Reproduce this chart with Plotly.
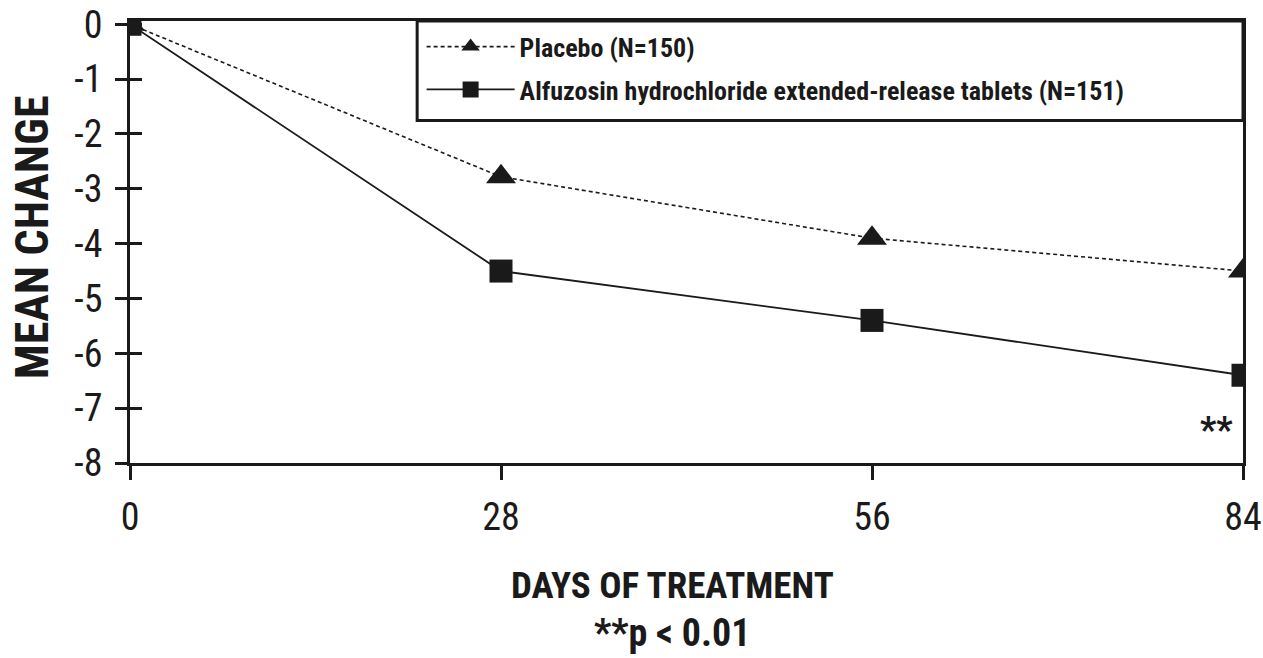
import plotly.graph_objects as go

days = [0, 28, 56, 84]
placebo = [0, -2.78, -3.9, -4.5]
alfuzosin = [0, -4.5, -5.4, -6.4]
placebo_name = "Placebo (N=150)"
alfuzosin_name = "Alfuzosin hydrochloride extended-release tablets (N=151)"
x_ticks = [0, 28, 56, 84]
y_ticks = [0, -1, -2, -3, -4, -5, -6, -7, -8]

FONT = "Roboto Condensed, Liberation Sans Narrow, Roboto, sans-serif"
INK = "#1a1a1a"

fig = go.Figure()
fig.add_trace(go.Scatter(
    x=days, y=placebo, name=placebo_name, mode="lines+markers",
    line=dict(color=INK, width=1.6, dash="4px,3px"),
    marker=dict(symbol="triangle-up", size=26, color=INK),
    legendgroup="a",
))
fig.add_trace(go.Scatter(
    x=days, y=alfuzosin, name=alfuzosin_name, mode="lines+markers",
    line=dict(color=INK, width=1.8),
    marker=dict(symbol="square", size=23, color=INK),
    legendgroup="b",
))
# invisible trace for an inside-tick y axis (crossing ticks)
fig.add_trace(go.Scatter(x=[days[0]], y=[y_ticks[0]], yaxis="y2", showlegend=False,
                         mode="markers", marker=dict(opacity=0), hoverinfo="skip"))

fig.update_layout(
    width=1263, height=658,
    margin=dict(l=130, r=20, t=21, b=195),
    paper_bgcolor="white", plot_bgcolor="white",
    font=dict(family=FONT, color=INK),
    showlegend=True,
    legend=dict(
        x=0.262, y=0.995, xanchor="left", yanchor="top",
        bgcolor="rgba(0,0,0,0)", borderwidth=0,
        font=dict(family=FONT, size=26, color=INK, weight="bold"),
        tracegroupgap=6, itemwidth=88,
    ),
    xaxis=dict(
        range=[0, 84], tickvals=x_ticks, ticktext=[str(v) for v in x_ticks],
        showline=True, linecolor=INK, linewidth=3, mirror=True,
        ticks="outside", ticklen=14, tickwidth=3, tickcolor=INK,
        tickfont=dict(size=38, family=FONT, color=INK),
        ticklabelstandoff=4, ticklabeloverflow="allow",
        showgrid=False, zeroline=False, automargin=False,
    ),
    yaxis=dict(
        range=[-8, 0.06], tickvals=y_ticks, ticktext=[str(v) for v in y_ticks],
        showline=True, linecolor=INK, linewidth=3, mirror=True,
        ticks="outside", ticklen=12, tickwidth=3, tickcolor=INK,
        tickfont=dict(size=38, family=FONT, color=INK),
        ticklabelstandoff=5, ticklabeloverflow="allow",
        showgrid=False, zeroline=False, automargin=False,
    ),
    yaxis2=dict(
        overlaying="y", matches="y", side="left", anchor="x",
        tickvals=y_ticks, showticklabels=False,
        ticks="inside", ticklen=12, tickwidth=3, tickcolor=INK,
        showgrid=False, zeroline=False, showline=False, automargin=False,
    ),
    shapes=[dict(type="rect", xref="paper", yref="paper",
                 x0=0.258, x1=1.0, y0=0.775, y1=1.0,
                 line=dict(color=INK, width=3), fillcolor="rgba(0,0,0,0)")],
    annotations=[
        dict(x=82, y=-7.4, xref="x", yref="y", text="**", showarrow=False,
             font=dict(size=36, family=FONT, color=INK, weight="bold")),
        dict(x=0.487, y=-0.278, xref="paper", yref="paper", text="DAYS OF TREATMENT",
             showarrow=False, yanchor="middle",
             font=dict(size=37, family=FONT, color=INK, weight="bold")),
        dict(x=0.487, y=-0.385, xref="paper", yref="paper", text="**p &lt; 0.01",
             showarrow=False, yanchor="middle",
             font=dict(size=38, family=FONT, color=INK, weight="bold")),
        dict(x=-0.088, y=0.511, xref="paper", xanchor="center", yref="paper", text="MEAN CHANGE",
             showarrow=False, textangle=-90, yanchor="middle",
             font=dict(size=46, family=FONT, color=INK, weight="bold")),
    ],
)

fig.write_html(
    "out.html",
    config={"displayModeBar": False},
    post_script="document.body.style.margin='0px';document.body.style.overflow='hidden';",
)
